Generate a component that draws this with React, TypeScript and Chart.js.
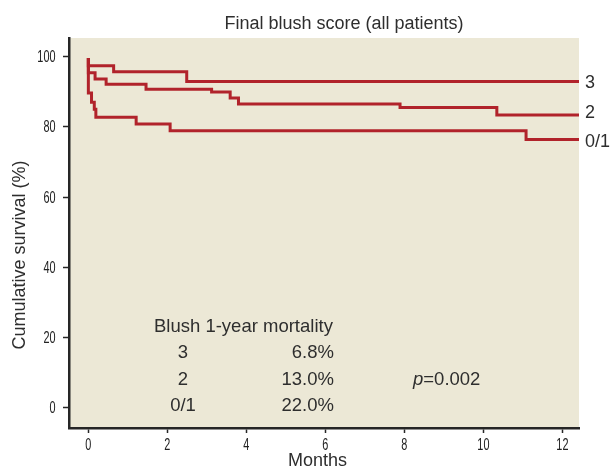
import React, { useEffect, useRef } from "react";
import { Chart, registerables } from "chart.js";

Chart.register(...registerables);

// ---- data ----
const chartTitle = "Final blush score (all patients)";
const xAxisTitle = "Months";
const yAxisTitle = "Cumulative survival (%)";

const xTicks = [0, 2, 4, 6, 8, 10, 12];
const yTicks = [0, 20, 40, 60, 80, 100];

// Kaplan-Meier steps: time (months) and survival (%) after each step
const monthsBlush3 = [0, 0, 0.64, 2.49, 12.42];
const survivalBlush3 = [99.6, 97.4, 95.7, 92.9, 92.9];

const monthsBlush2 = [0, 0, 0.17, 0.45, 1.46, 3.12, 3.59, 3.8, 7.89, 10.34, 12.42];
const survivalBlush2 = [99.6, 95.4, 93.6, 92.1, 90.7, 89.9, 88.2, 86.5, 85.5, 83.4, 83.4];

const monthsBlush01 = [0, 0, 0.08, 0.15, 0.19, 1.21, 2.07, 11.08, 12.42];
const survivalBlush01 = [99.6, 89.6, 87.0, 85.0, 82.7, 80.8, 78.9, 76.4, 76.4];

const groupLabels = ["3", "2", "0/1"];
const tableHeader = "Blush 1-year mortality";
const tableGrades = ["3", "2", "0/1"];
const tableMortality = ["6.8%", "13.0%", "22.0%"];
const pValueText = "=0.002";

const LINE_COLOR = "#B1232B";
const BG_COLOR = "#ECE8D6";
const TEXT_COLOR = "#2e2e2e";
const AXIS_COLOR = "#262626";
const FONT = '"Liberation Sans", Arial, Helvetica, sans-serif';

function toPoints(xs: number[], ys: number[]) {
  return xs.map((x, i) => ({ x, y: ys[i] }));
}

const bgPlugin = {
  id: "plotBackground",
  beforeDraw(chart: any) {
    const { ctx, chartArea } = chart;
    ctx.save();
    ctx.fillStyle = BG_COLOR;
    ctx.fillRect(chartArea.left, chartArea.top, chartArea.right - chartArea.left, chartArea.bottom - chartArea.top);
    ctx.restore();
  },
};

// condensed tick labels, taken from the scales' own ticks
function drawCondensed(ctx: CanvasRenderingContext2D, text: string, x: number, y: number, align: "left" | "center" | "right") {
  const sx = 0.68;
  ctx.save();
  ctx.translate(x, y);
  ctx.scale(sx, 1);
  ctx.textAlign = align;
  ctx.fillText(text, 0, 0);
  ctx.restore();
}

const tickLabelPlugin = {
  id: "condensedTicks",
  afterDraw(chart: any) {
    const { ctx } = chart;
    const xs = chart.scales.x;
    const ys = chart.scales.y;
    ctx.save();
    ctx.fillStyle = "#222";
    ctx.font = `16px ${FONT}`;
    ctx.textBaseline = "alphabetic";
    xs.ticks.forEach((t: any) => {
      drawCondensed(ctx, String(t.value), xs.getPixelForValue(t.value), 450, "center");
    });
    ys.ticks.forEach((t: any) => {
      drawCondensed(ctx, String(t.value), 55.5, ys.getPixelForValue(t.value) + 5.6, "right");
    });
    ctx.restore();
  },
};

const textPlugin = {
  id: "textAnnotations",
  afterDraw(chart: any) {
    const { ctx, chartArea } = chart;
    const yScale = chart.scales.y;
    ctx.save();
    ctx.fillStyle = TEXT_COLOR;

    // title
    ctx.font = `18px ${FONT}`;
    ctx.textAlign = "center";
    ctx.textBaseline = "alphabetic";
    ctx.fillText(chartTitle, 344, 29);

    // x-axis title
    ctx.font = `18px ${FONT}`;
    ctx.fillText(xAxisTitle, 317.5, 466);

    // y-axis title
    ctx.save();
    ctx.translate(20, 255);
    ctx.rotate(-Math.PI / 2);
    ctx.textAlign = "center";
    ctx.textBaseline = "middle";
    ctx.fillText(yAxisTitle, 0, 0);
    ctx.restore();

    // group labels at line ends
    ctx.font = `18px ${FONT}`;
    ctx.textAlign = "left";
    ctx.textBaseline = "middle";
    const lastValues = [
      survivalBlush3[survivalBlush3.length - 1],
      survivalBlush2[survivalBlush2.length - 1],
      survivalBlush01[survivalBlush01.length - 1],
    ];
    const dy = [1.5, -1.5, 2.5];
    groupLabels.forEach((lab, i) => {
      ctx.fillText(lab, chartArea.right + 6, yScale.getPixelForValue(lastValues[i]) + dy[i]);
    });

    // mortality table
    ctx.font = `18.5px ${FONT}`;
    ctx.textBaseline = "alphabetic";
    ctx.textAlign = "left";
    ctx.fillText(tableHeader, 154, 332);
    tableGrades.forEach((g, i) => {
      const yb = 332 + 26.3 * (i + 1);
      ctx.textAlign = "center";
      ctx.fillText(g, 183, yb);
      ctx.textAlign = "right";
      ctx.fillText(tableMortality[i], 334, yb);
    });

    // p value
    ctx.textAlign = "left";
    ctx.font = `italic 18.5px ${FONT}`;
    ctx.fillText("p", 413, 384.6);
    const pw = ctx.measureText("p").width;
    ctx.font = `18.5px ${FONT}`;
    ctx.fillText(pValueText, 413 + pw, 384.6);

    ctx.restore();
  },
};

export default function App() {
  const canvasRef = useRef<HTMLCanvasElement | null>(null);

  useEffect(() => {
    if (!canvasRef.current) return;
    const lineStyle = {
      borderColor: LINE_COLOR,
      borderWidth: 3,
      pointRadius: 0,
      pointHoverRadius: 0,
      fill: false,
      stepped: "before" as const,
      tension: 0,
    };
    const chart = new Chart(canvasRef.current, {
      type: "line",
      data: {
        datasets: [
          { label: "3", data: toPoints(monthsBlush3, survivalBlush3), ...lineStyle },
          { label: "2", data: toPoints(monthsBlush2, survivalBlush2), ...lineStyle },
          { label: "0/1", data: toPoints(monthsBlush01, survivalBlush01), ...lineStyle },
        ],
      },
      options: {
        responsive: false,
        animation: false,
        maintainAspectRatio: false,
        layout: { padding: { top: 38, right: 34, left: 0, bottom: 0 } },
        plugins: {
          legend: { display: false },
          tooltip: { enabled: false },
          title: { display: false },
        },
        scales: {
          x: {
            type: "linear",
            min: -0.49,
            max: 12.42,
            afterBuildTicks: (scale: any) => {
              scale.ticks = xTicks.map((v) => ({ value: v }));
            },
            afterFit: (scale: any) => {
              scale.height = 39;
            },
            grid: {
              display: true,
              drawOnChartArea: false,
              drawTicks: true,
              tickLength: 5,
              tickWidth: 1.5,
              tickColor: AXIS_COLOR,
            },
            border: { display: true, color: AXIS_COLOR, width: 2.5 },
            ticks: {
              autoSkip: false,
              maxRotation: 0,
              padding: 3,
              color: "rgba(0,0,0,0)",
              font: { family: FONT, size: 14 },
            },
          },
          y: {
            type: "linear",
            min: -5.8,
            max: 105.3,
            afterBuildTicks: (scale: any) => {
              scale.ticks = yTicks.map((v) => ({ value: v }));
            },
            afterFit: (scale: any) => {
              scale.width = 69;
            },
            grid: {
              display: true,
              drawOnChartArea: false,
              drawTicks: true,
              tickLength: 6,
              tickWidth: 1.5,
              tickColor: AXIS_COLOR,
            },
            border: { display: true, color: AXIS_COLOR, width: 2.5 },
            ticks: {
              autoSkip: false,
              padding: 7,
              color: "rgba(0,0,0,0)",
              font: { family: FONT, size: 14 },
            },
          },
        },
      },
      plugins: [bgPlugin, tickLabelPlugin, textPlugin],
    });
    return () => chart.destroy();
  }, []);

  return (
    <div style={{ position: "fixed", left: 0, top: 0, width: 613, height: 467, background: "#fff" }}>
      <canvas ref={canvasRef} width={613} height={467} style={{ display: "block", width: 613, height: 467 }} />
    </div>
  );
}
